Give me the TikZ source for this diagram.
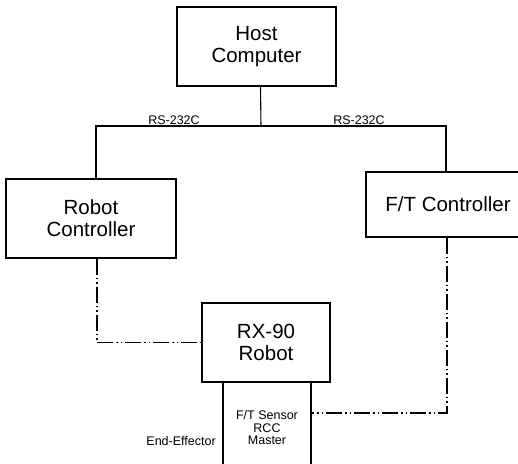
\documentclass[tikz,border=0pt]{standalone}
\usepackage{fontspec}
\setmainfont{Liberation Sans}
\usetikzlibrary{positioning}

\tikzset{
  unit/.style={draw, line width=1.2pt, inner sep=0pt, align=center,
    font=\fontsize{20.5}{22}\selectfont},
  lbl/.style={inner sep=1pt, font=\fontsize{12.5}{12.5}\selectfont},
  dashdotdot/.style={line width=1.1pt,
    dash pattern=on 16pt off 3pt on 1.5pt off 3pt on 1.5pt off 3pt}
}

\begin{document}
\begin{tikzpicture}[x=1pt, y=-1pt, line width=1.1pt]
  \useasboundingbox (0,0) rectangle (518,463);
  \clip (0,0) rectangle (518,463);

  % Units
  \node[unit, minimum width=159, minimum height=79] (host) at (256.5,46.5) {Host\\Computer};
  \node[unit, minimum width=170, minimum height=79] (robotctrl) at (91,218.5) {Robot\\Controller};
  \node[unit, minimum width=164, minimum height=65] (ftctrl) at (448,204.5) {F/T Controller};
  \node[unit, minimum width=128, minimum height=79] (robot) at (266,342.5) {RX-90\\Robot};
  \node[unit, minimum width=88, minimum height=92, font=\fontsize{12.5}{12.5}\selectfont,
    line width=1.5pt] (sensor) at (267,428) {F/T Sensor\\RCC\\Master};
  \node[lbl, left=5pt of sensor.west, yshift=-13] (effector) {End-Effector};

  % RS-232C bus
  \coordinate (bus) at (261,126);
  \draw ([xshift=4]host.south) -- (bus);
  \draw ([xshift=5]robotctrl.north) |- (bus) -| ([xshift=-2]ftctrl.north);
  \node[lbl, above] (rsleft) at (174,126) {RS-232C};
  \node[lbl, above] (rsright) at (359,126) {RS-232C};

  % Signal lines
  \draw[dashdotdot] ([xshift=6]robotctrl.south) |- (robot.west);
  \draw[dashdotdot] ([xshift=-1]ftctrl.south) |- ([yshift=15]sensor.east);
\end{tikzpicture}
\end{document}
